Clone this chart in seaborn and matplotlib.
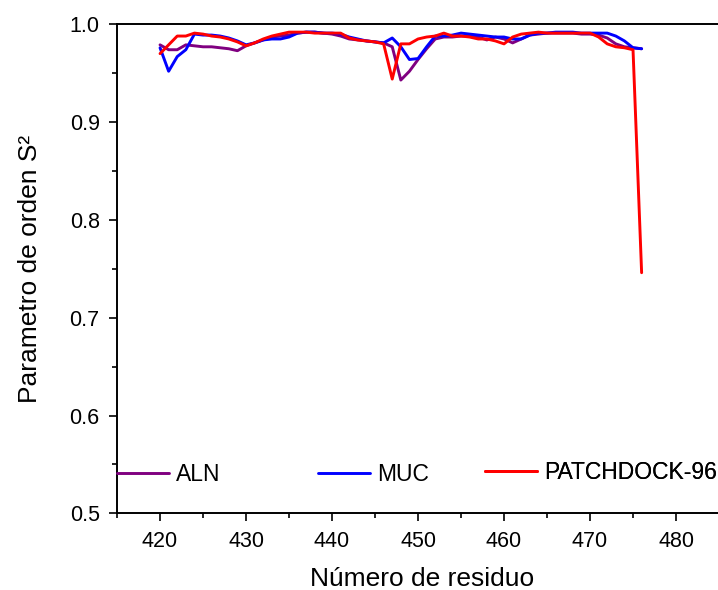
import matplotlib
matplotlib.use("Agg")
import matplotlib.pyplot as plt
import seaborn as sns
import pandas as pd
import numpy as np

# Residue numbers and order parameter S^2 for each model
residues = list(range(420, 477))

s2_aln = [0.979, 0.974, 0.974, 0.979, 0.978, 0.977, 0.977, 0.976, 0.975, 0.973,
          0.978, 0.981, 0.984, 0.987, 0.988, 0.989, 0.991, 0.992, 0.992, 0.991,
          0.990, 0.988, 0.985, 0.984, 0.983, 0.982, 0.981, 0.977, 0.943, 0.952,
          0.964, 0.975, 0.985, 0.987, 0.987, 0.988, 0.988, 0.987, 0.984, 0.987,
          0.985, 0.981, 0.985, 0.989, 0.990, 0.991, 0.991, 0.991, 0.991, 0.990,
          0.990, 0.989, 0.986, 0.980, 0.977, 0.976, 0.975]

s2_muc = [0.976, 0.952, 0.967, 0.974, 0.990, 0.989, 0.989, 0.988, 0.986, 0.983,
          0.979, 0.981, 0.984, 0.985, 0.985, 0.987, 0.991, 0.992, 0.992, 0.991,
          0.991, 0.990, 0.987, 0.985, 0.983, 0.982, 0.981, 0.986, 0.977, 0.964,
          0.965, 0.977, 0.988, 0.988, 0.989, 0.991, 0.990, 0.989, 0.988, 0.987,
          0.987, 0.985, 0.985, 0.989, 0.991, 0.991, 0.992, 0.992, 0.992, 0.991,
          0.991, 0.991, 0.991, 0.988, 0.983, 0.976, 0.975]

s2_patchdock = [0.970, 0.979, 0.988, 0.988, 0.991, 0.990, 0.988, 0.987, 0.985, 0.982,
                0.978, 0.981, 0.985, 0.988, 0.990, 0.992, 0.992, 0.992, 0.991, 0.991,
                0.991, 0.991, 0.986, 0.984, 0.983, 0.982, 0.980, 0.944, 0.980, 0.980,
                0.985, 0.987, 0.988, 0.991, 0.988, 0.988, 0.987, 0.985, 0.985, 0.983,
                0.980, 0.987, 0.990, 0.991, 0.992, 0.991, 0.991, 0.991, 0.991, 0.991,
                0.991, 0.987, 0.980, 0.977, 0.976, 0.974, 0.746]

series_names = ["ALN", "MUC", "PATCHDOCK-96"]
series_colors = ["#800080", "#0000FF", "#FF0000"]
x_ticks = [420, 430, 440, 450, 460, 470, 480]
y_ticks = [0.5, 0.6, 0.7, 0.8, 0.9, 1.0]

df = pd.DataFrame({
    "residuo": residues * 3,
    "S2": s2_aln + s2_muc + s2_patchdock,
    "modelo": [n for n in series_names for _ in residues],
})

sns.set_style("ticks")
plt.rcParams["font.family"] = ["Liberation Sans", "DejaVu Sans"]
plt.rcParams["text.color"] = "black"
plt.rcParams["axes.labelcolor"] = "black"

fig = plt.figure(figsize=(7.18, 5.90), dpi=100)
ax = fig.add_axes([0.163, 0.13, 0.8504, 0.8288])

sns.lineplot(data=df, x="residuo", y="S2", hue="modelo", hue_order=series_names,
             palette=series_colors, linewidth=2.1, legend=False, ax=ax)

ax.set_xlim(415, 486)
ax.set_ylim(0.5, 1.0)
ax.set_xticks(x_ticks)
ax.set_xticks(np.arange(415, 486, 5), minor=True)
ax.set_yticks(y_ticks)
ax.set_yticks(np.arange(0.5, 1.001, 0.05), minor=True)
ax.set_yticklabels([f"{v:.1f}" for v in y_ticks])

for side in ["left", "bottom", "top", "right"]:
    ax.spines[side].set_visible(True)
    ax.spines[side].set_linewidth(1.4)
    ax.spines[side].set_color("black")

ax.tick_params(axis="both", which="major", direction="out", length=6, width=1.2,
               labelsize=15.5, pad=6.5, colors="black")
ax.tick_params(axis="both", which="minor", direction="out", length=3.5, width=1.2,
               colors="black")
ax.tick_params(top=False, right=False, which="both")

ax.set_xlabel("Número de residuo", fontsize=19, va="center", color="black")
ax.set_ylabel("Parametro de orden S²", fontsize=19, va="center", color="black")
ax.xaxis.set_label_coords(0.5, -0.135)
ax.yaxis.set_label_coords(-0.142, 0.5)

# Legend entries laid out in a single row inside the plot
legend_pos = [(415.03, 0.540), (438.4, 0.540), (457.8, 0.542)]
lines = ax.get_lines()
for line, name, (lx, ly) in zip(lines, series_names, legend_pos):
    leg = ax.legend([line], [name], loc="center left", bbox_to_anchor=(lx, ly),
                    bbox_transform=ax.transData, frameon=False, fontsize=16.5,
                    handlelength=2.27, handletextpad=0.3, borderpad=0,
                    borderaxespad=0, labelcolor="black")
    ax.add_artist(leg)

fig.savefig("out.png", dpi=100)
